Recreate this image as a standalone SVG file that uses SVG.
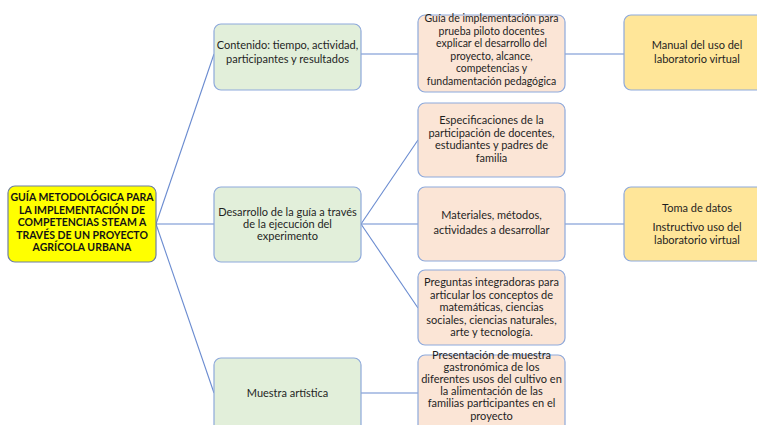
<svg xmlns="http://www.w3.org/2000/svg" width="757" height="425" viewBox="0 0 757 425">
<style>
text{font-family:Lato,"Liberation Sans",sans-serif;font-size:11px;fill:#1f1f1f;text-anchor:middle}
.root text{font-weight:bold;font-size:10.5px;fill:#141414}
.small text{font-size:10.5px}
.l1 rect{fill:#E2EFDA;stroke:#8EA9DB;stroke-width:1.2}
.l2 rect{fill:#FBE5D6;stroke:#8EA9DB;stroke-width:1.2}
.l3 rect{fill:#FFE699;stroke:#8EA9DB;stroke-width:1.2}
.root rect{fill:#FFFF00;stroke:#6F7FA3;stroke-width:1.2}
#connectors line{stroke:#6A8BD0;stroke-width:1.1}
</style>
<rect width="757" height="425" fill="#ffffff"/>
<g id="connectors">
<line x1="156" y1="224" x2="214" y2="54"/>
<line x1="156" y1="224" x2="214" y2="224"/>
<line x1="156" y1="224" x2="214" y2="393"/>
<line x1="361" y1="54" x2="418" y2="54"/>
<line x1="565" y1="54" x2="624" y2="54"/>
<line x1="361" y1="224" x2="418" y2="140"/>
<line x1="361" y1="224" x2="418" y2="224"/>
<line x1="361" y1="224" x2="418" y2="308"/>
<line x1="565" y1="224" x2="624" y2="224"/>
<line x1="361" y1="393" x2="418" y2="393"/>
</g>
<g id="root" class="root">
<rect x="8" y="186" width="148" height="76" rx="7"/>
<text x="82" y="201">GUÍA METODOLÓGICA PARA</text>
<text x="82" y="213.5">LA IMPLEMENTACIÓN DE</text>
<text x="82" y="226">COMPETENCIAS STEAM A</text>
<text x="82" y="238.5">TRAVÉS DE UN PROYECTO</text>
<text x="82" y="251">AGRÍCOLA URBANA</text>
</g>
<g id="n1" class="l1">
<rect x="214" y="24" width="147" height="66" rx="7"/>
<text x="287.5" y="49">Contenido: tiempo, actividad,</text>
<text x="287.5" y="63">participantes y resultados</text>
</g>
<g id="n2" class="l1">
<rect x="214" y="187" width="147" height="75" rx="7"/>
<text x="287.5" y="216">Desarrollo de la guía a través</text>
<text x="287.5" y="228">de la ejecución del</text>
<text x="287.5" y="240">experimento</text>
</g>
<g id="n3" class="l1">
<rect x="214" y="358" width="147" height="75" rx="7"/>
<text x="287.5" y="397">Muestra artística</text>
</g>
<g id="n4" class="l2 small">
<rect x="418" y="15" width="147" height="77" rx="7"/>
<text x="491.5" y="22">Guía de implementación para</text>
<text x="491.5" y="34.5">prueba piloto docentes</text>
<text x="491.5" y="47">explicar el desarrollo del</text>
<text x="491.5" y="59.5">proyecto, alcance,</text>
<text x="491.5" y="72">competencias y</text>
<text x="491.5" y="84.5">fundamentación pedagógica</text>
</g>
<g id="n5" class="l2">
<rect x="418" y="103" width="147" height="74" rx="7"/>
<text x="491.5" y="124">Especificaciones de la</text>
<text x="491.5" y="136.5">participación de docentes,</text>
<text x="491.5" y="149">estudiantes y padres de</text>
<text x="491.5" y="161.5">familia</text>
</g>
<g id="n6" class="l2">
<rect x="418" y="187" width="147" height="74" rx="7"/>
<text x="491.5" y="219">Materiales, métodos,</text>
<text x="491.5" y="234">actividades a desarrollar</text>
</g>
<g id="n7" class="l2">
<rect x="418" y="270" width="147" height="75" rx="7"/>
<text x="491.5" y="286">Preguntas integradoras para</text>
<text x="491.5" y="298.5">articular los conceptos de</text>
<text x="491.5" y="311">matemáticas, ciencias</text>
<text x="491.5" y="323.5">sociales, ciencias naturales,</text>
<text x="491.5" y="336">arte y tecnología.</text>
</g>
<g id="n8" class="l2">
<rect x="418" y="355" width="147" height="80" rx="7"/>
<text x="491.5" y="359">Presentación de muestra</text>
<text x="491.5" y="371">gastronómica de los</text>
<text x="491.5" y="383">diferentes usos del cultivo en</text>
<text x="491.5" y="395">la alimentación de las</text>
<text x="491.5" y="407">familias participantes en el</text>
<text x="491.5" y="419.5">proyecto</text>
</g>
<g id="n9" class="l3">
<rect x="624" y="15" width="147" height="75" rx="7"/>
<text x="697" y="49">Manual del uso del</text>
<text x="697" y="63">laboratorio virtual</text>
</g>
<g id="n10" class="l3">
<rect x="624" y="187" width="147" height="74" rx="7"/>
<text x="697" y="212">Toma de datos</text>
<text x="697" y="231">Instructivo uso del</text>
<text x="697" y="244">laboratorio virtual</text>
</g>
</svg>
